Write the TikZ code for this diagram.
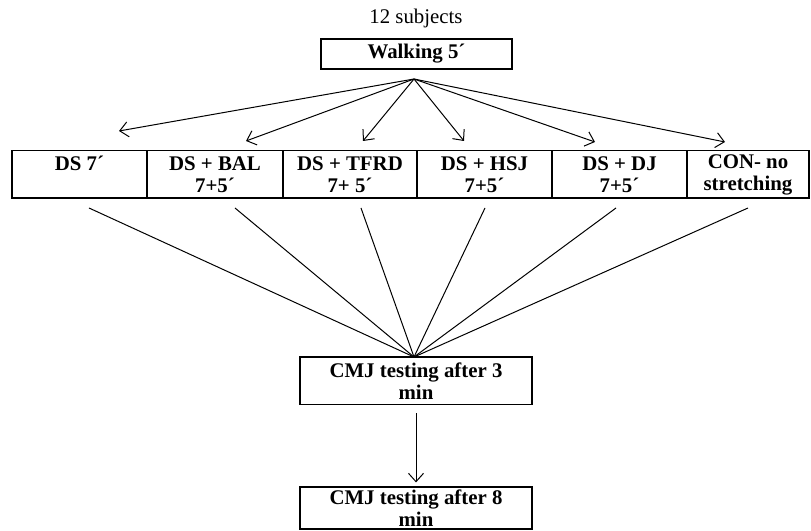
\documentclass[tikz,border=0pt]{standalone}
\usepackage{fontspec}
\setmainfont{Liberation Serif}
\usetikzlibrary{arrows.meta, positioning}

\begin{document}
\begin{tikzpicture}[
    x=0.6pt, y=-0.6pt, % one unit is one pixel of the layout
    font=\fontsize{12.5}{13.2}\selectfont,
    box/.style={rectangle, draw=black, line width=0.9pt, minimum height=28.5pt, inner sep=0pt, align=center, font=\fontsize{12.5}{13.2}\selectfont\bfseries},
    group/.style={box, minimum width=81pt},
    link/.style={line width=0.6pt},
    arrow/.style={link, -{Straight Barb[length=5pt, width=9pt]}}
]
    \useasboundingbox (0,0) rectangle (811,531);

    % Start
    \node (subj) at (416,18) {12 subjects};
    \node (walk) [box, minimum width=114.6pt, minimum height=18pt] at (416.5,54) {Walking 5´};

    % Groups
    \node (ds7) [group] at (79.5,174.5) {DS 7´\\\mbox{}};
    \node (bal) [group, minimum width=81.6pt] at (215,174.5) {DS + BAL\\7+5´};
    \node (tfrd) [group, minimum width=80.4pt] at (350,174.5) {DS + TFRD\\7+ 5´};
    \node (hsj) [group] at (484.5,174.5) {DS + HSJ\\7+5´};
    \node (dj) [group] at (619.5,174.5) {DS + DJ\\7+5´};
    \node (con) [group, minimum width=73.2pt] at (748,174.5) {CON- no\\stretching};

    % Testing
    \node (cmja) [box, minimum width=139.2pt] at (416,381) {CMJ testing after 3\\min};
    \node (cmjb) [box, minimum width=139.2pt, minimum height=25pt] at (416,508) {CMJ testing after 8\\min};

    % Split points
    \coordinate (split) at (414,79);
    \coordinate (in1) at (119,131);
    \coordinate (in2) at (246,141);
    \coordinate (in3) at (363,141);
    \coordinate (in4) at (464,141);
    \coordinate (in5) at (595,142);
    \coordinate (in6) at (725,142);

    \coordinate (out1) at (89,208);
    \coordinate (out2) at (235,208);
    \coordinate (out3) at (361,208);
    \coordinate (out4) at (485,208);
    \coordinate (out5) at (616,208);
    \coordinate (out6) at (748,208);
    \coordinate (join) at (414,357);

    % Arrows to the groups
    \foreach \i in {1,...,6}
        \draw [arrow] (split) -- (in\i);

    % Lines to the test
    \foreach \i in {1,...,6}
        \draw [link] (out\i) -- (join);

    \draw [arrow, shorten <=4.8pt, shorten >=2.4pt] (cmja) -- (cmjb);

\end{tikzpicture}
\end{document}
